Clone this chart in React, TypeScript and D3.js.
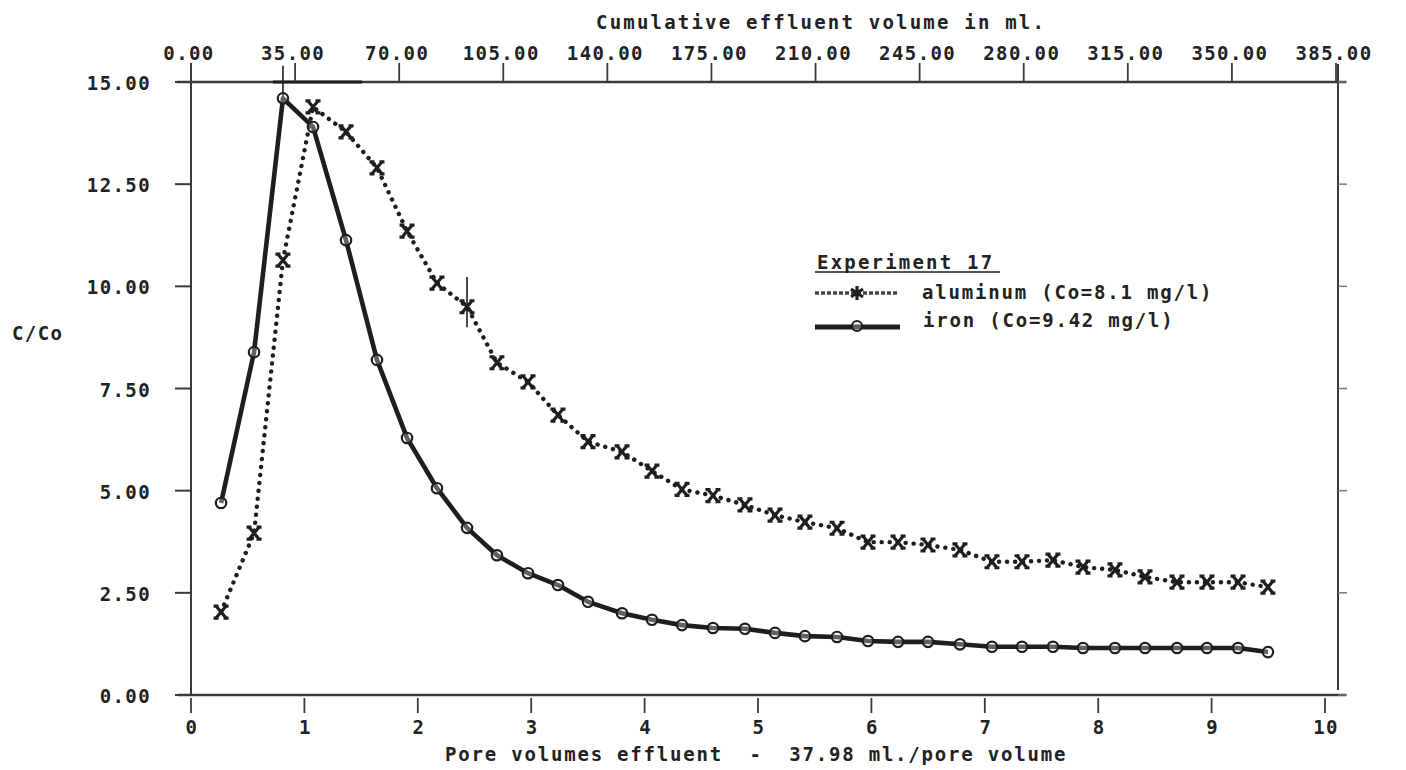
import React from "react";
import * as d3 from "d3";

// Pore volumes of effluent for each sample
const poreVolumes = [0.265, 0.556, 0.811, 1.076, 1.367, 1.64, 1.905, 2.169, 2.434, 2.698, 2.972, 3.236, 3.501, 3.801, 4.065, 4.33, 4.603, 4.885, 5.15, 5.414, 5.697, 5.97, 6.235, 6.499, 6.781, 7.063, 7.328, 7.601, 7.866, 8.148, 8.413, 8.695, 8.959, 9.233, 9.497];
const aluminum = [2.03, 3.96, 10.64, 14.39, 13.78, 12.9, 11.35, 10.08, 9.5, 8.13, 7.66, 6.85, 6.2, 5.95, 5.48, 5.03, 4.88, 4.65, 4.4, 4.23, 4.08, 3.74, 3.74, 3.67, 3.55, 3.26, 3.26, 3.3, 3.13, 3.06, 2.89, 2.76, 2.76, 2.76, 2.64];
const iron = [4.7, 8.39, 14.6, 13.9, 11.13, 8.2, 6.29, 5.06, 4.09, 3.42, 2.98, 2.69, 2.28, 2.0, 1.84, 1.71, 1.64, 1.62, 1.52, 1.44, 1.42, 1.32, 1.3, 1.3, 1.24, 1.18, 1.18, 1.18, 1.15, 1.15, 1.15, 1.15, 1.15, 1.15, 1.05];

const bottomTicks = [0, 1, 2, 3, 4, 5, 6, 7, 8, 9, 10];
const topTicks = [0, 35, 70, 105, 140, 175, 210, 245, 280, 315, 350, 385];
const leftTicks = [0, 2.5, 5, 7.5, 10, 12.5, 15];

// annotation marks present on the original plot (pore volume, C/Co from, C/Co to)
const markerLines = [
  { pv: 0.811, from: 14.6, to: 15.4 },
  { pv: 2.434, from: 9.0, to: 10.23 },
];

const title = "Cumulative effluent volume in ml.";
const xTitle = "Pore volumes effluent  -  37.98 ml./pore volume";
const yTitle = "C/Co";
const legendTitle = "Experiment 17";
const legendNames = ["aluminum (Co=8.1 mg/l)", "iron (Co=9.42 mg/l)"];

const FONT = "'DejaVu Sans Mono', monospace";
const INK = "#1e1e1e";

function XMark({ x, y }: { x: number; y: number }) {
  const d = `M${x - 5},${y - 6}L${x + 5},${y + 6}M${x + 5},${y - 6}L${x - 5},${y + 6}` +
    `M${x - 7.5},${y - 6}L${x - 2.5},${y - 6}M${x + 2.5},${y - 6}L${x + 7.5},${y - 6}` +
    `M${x - 7.5},${y + 6}L${x - 2.5},${y + 6}M${x + 2.5},${y + 6}L${x + 7.5},${y + 6}`;
  return <path d={d} stroke={INK} strokeWidth={3.2} fill="none" />;
}

export default function App() {
  const x = d3.scaleLinear().domain([0, 10]).range([191, 1325]);
  const xTop = d3.scaleLinear().domain([0, 385]).range([191, 1336]);
  const y = d3.scaleLinear().domain([0, 15]).range([695, 82]);

  const line = d3.line<number>().x((_, i) => x(poreVolumes[i])).y((d) => y(d));
  const fmt = d3.format(".2f");

  const textStyle: React.CSSProperties = {
    fontFamily: FONT,
    fontSize: 19,
    fontWeight: "bold",
    letterSpacing: 1.4,
    fill: "#222",
    whiteSpace: "pre",
  };

  return (
    <svg
      width={1406}
      height={770}
      style={{ position: "absolute", left: 0, top: 0, background: "#fff" }}
    >
      <rect x={0} y={0} width={1406} height={770} fill="#fff" />

      {/* frame / axes */}
      <line x1={177} x2={1346} y1={y(15)} y2={y(15)} stroke="#3a3a3a" strokeWidth={2.5} />
      <line x1={178} x2={1346} y1={y(0)} y2={y(0)} stroke="#3a3a3a" strokeWidth={2.5} />
      <line x1={x(0)} x2={x(0)} y1={63} y2={y(0)} stroke="#3a3a3a" strokeWidth={2} />
      <line x1={1338} x2={1338} y1={64} y2={690} stroke="#3a3a3a" strokeWidth={2} />
      {/* thicker segment at top */}
      <line x1={273} x2={362} y1={y(15)} y2={y(15)} stroke={INK} strokeWidth={3.2} />

      {/* top axis */}
      {topTicks.map((t) => (
        <g key={"t" + t}>
          <line x1={xTop(t)} x2={xTop(t)} y1={y(15)} y2={63} stroke="#3a3a3a" strokeWidth={1.8} />
          <text x={xTop(t) - 2} y={53} textAnchor="middle" dominantBaseline="central" style={textStyle}>
            {fmt(t)}
          </text>
        </g>
      ))}
      <text x={596} y={22} dominantBaseline="central" style={{ ...textStyle, letterSpacing: 2.2 }}>
        {title}
      </text>

      {/* left axis */}
      {leftTicks.map((t) => (
        <g key={"l" + t}>
          <line x1={175} x2={x(0)} y1={y(t)} y2={y(t)} stroke="#3a3a3a" strokeWidth={2} />
          <line x1={1338} x2={1347} y1={y(t)} y2={y(t)} stroke="#777" strokeWidth={1.5} />
          <text x={151} y={y(t) + 1} textAnchor="end" dominantBaseline="central" style={textStyle}>
            {fmt(t)}
          </text>
        </g>
      ))}
      <text x={12} y={333} dominantBaseline="central" style={textStyle}>
        {yTitle}
      </text>

      {/* bottom axis */}
      {bottomTicks.map((t) => (
        <g key={"b" + t}>
          <line x1={x(t)} x2={x(t)} y1={y(0) + 3} y2={713} stroke="#3a3a3a" strokeWidth={1.8} />
          <text x={x(t) + 1} y={727} textAnchor="middle" dominantBaseline="central" style={textStyle}>
            {String(t)}
          </text>
        </g>
      ))}
      <text x={445} y={754} dominantBaseline="central" style={{ ...textStyle, letterSpacing: 1.8 }}>
        {xTitle}
      </text>

      {/* annotation marks */}
      {markerLines.map((m, i) => (
        <line key={"m" + i} x1={x(m.pv)} x2={x(m.pv)} y1={y(m.from)} y2={y(m.to)} stroke={INK} strokeWidth={1.6} />
      ))}

      {/* aluminum: dotted line with x markers */}
      <path
        d={line(aluminum) || ""}
        fill="none"
        stroke={INK}
        strokeWidth={4.4}
        strokeLinecap="round"
        strokeDasharray="0.1 7.9"
      />
      {aluminum.map((v, i) => (
        <XMark key={"a" + i} x={x(poreVolumes[i])} y={y(v)} />
      ))}

      {/* iron: solid line with open circles */}
      <path d={line(iron) || ""} fill="none" stroke={INK} strokeWidth={4.6} strokeLinejoin="round" />
      {iron.map((v, i) => (
        <circle key={"f" + i} cx={x(poreVolumes[i])} cy={y(v)} r={5.2} fill="#fff" fillOpacity={0.3} stroke={INK} strokeWidth={2.2} />
      ))}

      {/* legend */}
      <text x={817} y={262} dominantBaseline="central" style={{ ...textStyle, letterSpacing: 2.2 }}>
        {legendTitle}
      </text>
      <line x1={815} x2={1000} y1={272} y2={272} stroke={INK} strokeWidth={1.6} />

      <line x1={815} x2={898} y1={293} y2={293} stroke="#444" strokeWidth={3.5} strokeDasharray="4 2" />
      <path
        d="M857,286L857,300M851,289L863,297M851,297L863,289"
        stroke={INK}
        strokeWidth={3.2}
        fill="none"
      />
      <text x={922} y={292} dominantBaseline="central" style={{ ...textStyle, letterSpacing: 1.8 }}>
        {legendNames[0]}
      </text>

      <line x1={815} x2={900} y1={327} y2={327} stroke={INK} strokeWidth={5} />
      <circle cx={857} cy={326} r={5} fill="#fff" fillOpacity={0.3} stroke={INK} strokeWidth={2} />
      <text x={923} y={320} dominantBaseline="central" style={{ ...textStyle, letterSpacing: 1.8 }}>
        {legendNames[1]}
      </text>
    </svg>
  );
}
